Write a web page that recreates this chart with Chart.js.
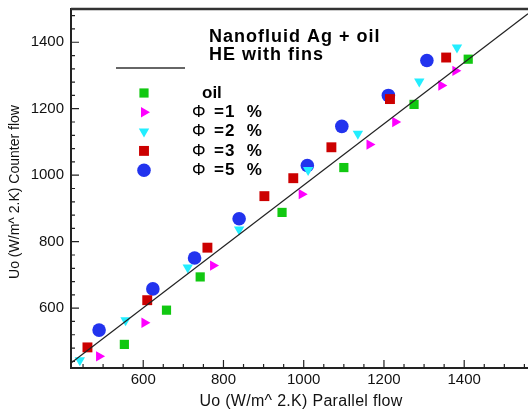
<!DOCTYPE html>
<html>
<head>
<meta charset="utf-8">
<script src="https://cdn.jsdelivr.net/npm/chart.js@4/dist/chart.umd.min.js"></script>
<style>
  html, body { margin: 0; padding: 0; background: #fff; }
  #wrap { width: 528px; height: 410px; position: relative; }
</style>
</head>
<body>
<div id="wrap"><canvas id="uoChart"></canvas></div>
<script>
// values
const seriesNames = ['oil', 'Φ =1 %', 'Φ =2 %', 'Φ =3 %', 'Φ =5 %'];

const oilX = [553, 658, 742, 946, 1100, 1275, 1410];
const oilY = [491, 594, 694, 888, 1023, 1213, 1349];

const phi1X = [490, 603, 774, 995, 1164, 1228, 1343, 1378];
const phi1Y = [455, 556, 728, 943, 1092, 1160, 1270, 1314];

const phi2X = [442, 556, 711, 839, 1011, 1135, 1288, 1382];
const phi2Y = [443, 564, 722, 837, 1016, 1125, 1282, 1384];

const phi3X = [461, 610, 760, 902, 974, 1069, 1215, 1355];
const phi3Y = [482, 624, 782, 937, 991, 1084, 1229, 1354];

const phi5X = [490, 624, 728, 839, 1009, 1095, 1211, 1307];
const phi5Y = [534, 658, 751, 869, 1029, 1147, 1240, 1345];

// fitted line end points
const fitX = [420, 1559];
const fitY = [435, 1486];

const xTicks = [600, 800, 1000, 1200, 1400];
const yTicks = [600, 800, 1000, 1200, 1400];

const titleLines = ['Nanofluid Ag + oil', 'HE with fins'];
const xTitle = 'Uo (W/m^ 2.K) Parallel flow';
const yTitle = 'Uo (W/m^ 2.K) Counter flow';

const pts = (xs, ys) => xs.map((x, i) => ({ x: x, y: ys[i] }));

const markers = [
  { color: '#11c811', pointStyle: 'rect', radius: 6.5, rotation: 0 },
  { color: '#ff00ff', pointStyle: 'triangle', radius: 6, rotation: 90 },
  { color: '#22eeff', pointStyle: 'triangle', radius: 6, rotation: 180 },
  { color: '#cc0000', pointStyle: 'rect', radius: 7, rotation: 0 },
  { color: '#2233ee', pointStyle: 'circle', radius: 6.8, rotation: 0 }
];

const seriesData = [pts(oilX, oilY), pts(phi1X, phi1Y), pts(phi2X, phi2Y), pts(phi3X, phi3Y), pts(phi5X, phi5Y)];

const datasets = [{
  type: 'line',
  label: 'fit',
  data: pts(fitX, fitY),
  borderColor: '#222',
  borderWidth: 1.3,
  pointRadius: 0,
  fill: false
}];
seriesNames.forEach((name, i) => {
  const m = markers[i];
  datasets.push({
    label: name,
    data: seriesData[i],
    backgroundColor: m.color,
    borderWidth: 0,
    pointStyle: m.pointStyle,
    pointRadius: m.radius,
    pointHoverRadius: m.radius,
    rotation: m.rotation
  });
});

const FONT = 'Arial, "Liberation Sans", sans-serif';

const decorations = {
  id: 'decorations',
  afterDraw(chart) {
    const { ctx, chartArea: a, scales: { x, y } } = chart;
    ctx.save();

    // top frame
    ctx.strokeStyle = '#333';
    ctx.lineWidth = 2.5;
    ctx.beginPath();
    ctx.moveTo(a.left, a.top);
    ctx.lineTo(a.right, a.top);
    ctx.stroke();

    // inward tick marks
    ctx.lineWidth = 1.2;
    ctx.strokeStyle = '#222';
    ctx.beginPath();
    for (let v = 450; v <= 1550; v += 50) {
      const px = x.getPixelForValue(v);
      const len = v % 200 === 0 ? 8 : 4;
      ctx.moveTo(px, a.bottom);
      ctx.lineTo(px, a.bottom - len);
    }
    for (let v = 440; v <= 1480; v += 40) {
      const py = y.getPixelForValue(v);
      const len = v % 200 === 0 ? 8 : 4;
      ctx.moveTo(a.left, py);
      ctx.lineTo(a.left + len, py);
    }
    ctx.stroke();

    // axis titles
    ctx.fillStyle = '#111';
    ctx.font = '16px ' + FONT;
    ctx.textAlign = 'center';
    ctx.textBaseline = 'alphabetic';
    ctx.letterSpacing = '0.3px';
    ctx.fillText(xTitle, 301, 406);
    ctx.letterSpacing = '0px';
    ctx.save();
    ctx.translate(19, 192);
    ctx.rotate(-Math.PI / 2);
    ctx.font = '14px ' + FONT;
    ctx.fillText(yTitle, 0, 0);
    ctx.restore();

    // annotation title
    ctx.fillStyle = '#000';
    ctx.textAlign = 'left';
    ctx.textBaseline = 'middle';
    ctx.font = 'bold 18px ' + FONT;
    ctx.letterSpacing = '1px';
    ctx.fillText(titleLines[0], 209, 37);
    ctx.fillText(titleLines[1], 209, 55);
    ctx.letterSpacing = '0px';

    // legend: line sample then markers
    ctx.strokeStyle = '#333';
    ctx.lineWidth = 1.5;
    ctx.beginPath();
    ctx.moveTo(116, 68);
    ctx.lineTo(185, 68);
    ctx.stroke();

    seriesNames.forEach((name, i) => {
      const m = markers[i];
      const ly = 93 + i * 19.3;
      ctx.fillStyle = m.color;
      Chart.helpers.drawPoint(ctx, {
        pointStyle: m.pointStyle, radius: m.radius, rotation: m.rotation, borderWidth: 0
      }, 144, ly);
      ctx.fillStyle = '#000';
      if (name.startsWith('Φ')) {
        ctx.font = '17px ' + FONT;
        ctx.fillText('Φ', 192, ly);
        ctx.font = 'bold 17px ' + FONT;
        ctx.letterSpacing = '1px';
        ctx.fillText(name.slice(1).trim().replace(' ', '  '), 214, ly);
        ctx.letterSpacing = '0px';
      } else {
        ctx.font = 'bold 17px ' + FONT;
        ctx.fillText(name, 202, ly);
      }
    });
    ctx.restore();
  }
};

new Chart(document.getElementById('uoChart'), {
  type: 'scatter',
  data: { datasets: datasets },
  options: {
    responsive: true,
    maintainAspectRatio: false,
    animation: false,
    layout: { autoPadding: false, padding: { top: 9, right: 0, left: 0, bottom: 0 } },
    plugins: { legend: { display: false }, tooltip: { enabled: false } },
    scales: {
      x: {
        type: 'linear',
        min: 420,
        max: 1559,
        afterBuildTicks: s => { s.ticks = xTicks.map(v => ({ value: v })); },
        afterFit: s => { s.height = 42; s.paddingLeft = 0; s.paddingRight = 0; },
        grid: { display: false, drawTicks: false },
        border: { display: true, color: '#222', width: 2 },
        ticks: { color: '#111', font: { family: FONT, size: 15 }, padding: 3, maxRotation: 0, callback: v => String(v) }
      },
      y: {
        type: 'linear',
        min: 420,
        max: 1500,
        afterBuildTicks: s => { s.ticks = yTicks.map(v => ({ value: v })); },
        afterFit: s => { s.width = 71; s.paddingTop = 0; s.paddingBottom = 0; },
        grid: { display: false, drawTicks: false },
        border: { display: true, color: '#222', width: 2 },
        ticks: { color: '#111', font: { family: FONT, size: 15 }, padding: 7, callback: v => String(v) }
      }
    }
  },
  plugins: [decorations]
});
</script>
</body>
</html>
